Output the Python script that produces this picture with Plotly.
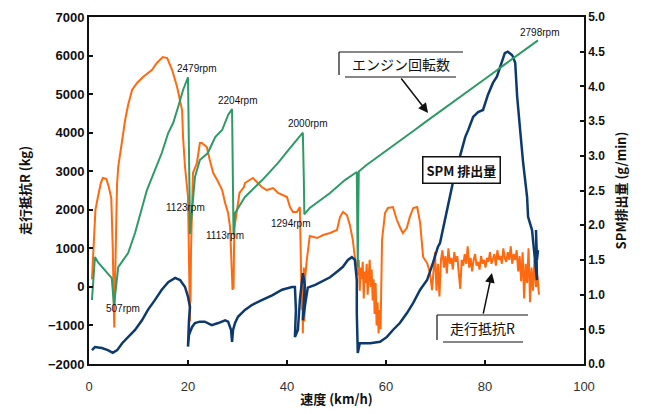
import plotly.graph_objects as go

# ---------------- data ----------------
# 走行抵抗R (kg) vs speed (km/h)
resist_speed = [0.6, 0.8, 1.0, 1.3, 1.8, 2.4, 2.8, 3.5, 4.0, 4.5, 4.8, 5.0, 5.1, 5.2, 5.4, 5.66, 5.9,
                6.7, 6.9, 7.3, 7.9, 8.7, 9.7, 10.9, 12.7, 13.7, 14.9, 15.8, 16.8, 17.8, 18.8, 19.0,
                19.4, 19.8, 20.0, 20.1, 20.2, 20.3, 20.4, 20.45, 20.5, 20.6, 20.8, 21.0, 21.8, 22.4,
                22.8, 23.8, 24.4, 25.1, 25.9, 26.9, 27.5, 28.1, 28.5, 28.8, 29.0, 29.1, 29.2, 29.3,
                29.4, 30.4, 31.3, 31.5, 32.5, 33.1, 33.9, 34.9, 35.9, 37.2, 38.2, 39.2, 40.0, 40.6,
                41.2, 42.0, 42.6, 42.8, 43.0, 43.1, 43.2, 43.3, 43.4, 43.5, 43.7, 44.0, 44.2, 44.6,
                46.1, 47.3, 48.7, 50.1, 50.7, 51.3, 52.1, 52.7, 53.3, 53.7, 54.1,
                54.3, 54.5, 54.7, 54.9, 55.1, 55.3, 55.5, 55.7, 55.9, 56.1, 56.3, 56.5, 56.7, 56.9,
                57.1, 57.3, 57.5, 57.7, 57.9, 58.1, 58.3, 58.5, 58.7, 58.9, 59.1, 59.2, 59.8, 60.4,
                61.4, 62.2, 62.8, 63.4, 64.2, 64.8, 65.5, 66.3, 66.9, 67.3, 67.5, 68.3, 68.9, 69.3,
                69.6, 69.9, 70.2, 70.5, 70.8, 71.1, 71.4, 71.7, 72.0, 72.3, 72.6, 72.9, 73.2, 73.5,
                73.8, 74.1, 74.4, 74.7, 75.0, 75.3, 75.6, 75.9, 76.2, 76.5, 76.8, 77.1, 77.4, 77.7,
                78.0, 78.3, 78.6, 78.9, 79.2, 79.5, 79.8, 80.1, 80.4, 80.7, 81.0, 81.3, 81.6, 81.9,
                82.2, 82.5, 82.8, 83.1, 83.4, 83.7, 84.0, 84.3, 84.6, 84.9, 85.2, 85.5, 85.8, 86.1,
                86.4, 86.7, 87.0, 87.3, 87.6, 87.9, 88.2, 88.5, 88.8, 89.1, 89.4, 89.7, 90.0, 90.3,
                90.6, 90.9]
resist_kg = [200, 700, 1300, 2000, 2331, 2700, 2824, 2800, 2590, 2300, 1000, -500, -1050, -300, 800,
             2642, 3109, 3887, 4069, 4328, 4717, 5106, 5288, 5444, 5625, 5807, 5962, 5936, 5625,
             5184, 4588, 3887, 3109, 2694, 2331, 1500, 200, -700, -900, 300, -400, 900, 2000, 2953,
             3213, 3731, 3731, 3628, 3291, 2953, 2772, 2512, 2175, 1916, 1553, 800, -80, 400, -50,
             1000, 1553, 2435, 2590, 2694, 2772, 2824, 2720, 2590, 2512, 2564, 2435, 2383, 2331,
             2071, 1942, 1942, 2071, 700, -600, 200, -1200, -300, 500, -900, 300, 700, 956, 1320,
             1267, 1345, 1397, 1475, 1812, 1942, 1864, 1604, 1215, 775, 515,
             300, 700, -100, 500, 200, 650, -300, 400, 100, 600, -200, 300, 700, 0, 450, -350,
             200, -700, 100, -1000, -400, -1200, -600, -1100, 300, 1216, 1916, 2046, 2071, 1734,
             1553, 1397, 1527, 1812, 2046, 2071, 1656, 956, 775, 618, 359, -82,
             400, 900, -100, 600, -250, 700, 950, 500, 800, 350, 1000, 600, 750, 450, 900, 650,
             800, 300, -50, 700, 550, 850, 600, 1050, 500, 750, 400, 700, 850, 550, 650, 450,
             800, 600, 700, 500, 750, 650, 900, 600, 700, 850, 550, 950, 700, 800, 600, 1000,
             750, 650, 900, 700, 1050, 600, 850, 700, 950, 400, 800, 150, 900, -300, 600, 100,
             1000, -400, 500, -100, 700, 0, 300, -200]

# エンジン回転数 (rpm) vs speed
rpm_speed = [0.6, 1.2, 1.8, 3.2, 4.6, 5.05, 5.9, 7.9, 9.3, 11.7, 12.7, 14.7, 16.0, 17.0, 18.0, 19.0,
             20.0, 20.2, 20.3, 20.4, 20.6, 21.0, 21.4, 22.4, 24.0, 25.5, 26.9, 28.1, 28.9, 29.1,
             29.2, 29.5, 31.5, 35.0, 38.2, 40.6, 43.2, 43.4, 43.5, 44.6, 48.7, 51.7, 54.1, 54.2,
             54.3, 54.4, 54.5, 56, 58, 60, 62, 64, 66, 68, 70, 72, 74, 76, 78, 80, 82, 84, 86,
             88, 90, 90.7]
rpm_value = [553, 925, 881, 812, 743, 507, 838, 959, 1132, 1504, 1616, 1824, 1997, 2083, 2222, 2369,
             2479, 2000, 1500, 1123, 1250, 1418, 1616, 1763, 1824, 1962, 2023, 2153, 2204, 1700,
             1113, 1305, 1444, 1590, 1738, 1867, 2000, 1600, 1294, 1349, 1478, 1590, 1660, 1200,
             840, 1300, 1665, 1718, 1782, 1843, 1905, 1967, 2030, 2093, 2154, 2216, 2280, 2340,
             2403, 2465, 2527, 2590, 2652, 2712, 2775, 2798]

# SPM排出量 (g/min) vs speed
spm_speed = [0.6, 1.2, 2.6, 3.8, 4.8, 5.7, 6.7, 7.9, 9.3, 10.7, 11.9, 13.3, 14.7, 16.0, 17.4, 18.4,
             19.4, 20.0, 20.4, 20.2, 20.0, 20.0, 20.2, 20.8, 21.4, 22.4, 23.4, 24.8, 26.1, 27.5,
             28.1, 28.7, 28.9, 29.1, 29.5, 30.1, 31.5, 32.9, 34.9, 37.0, 39.0, 41.0, 41.6, 41.8,
             41.6, 42.2, 42.6, 43.2, 43.6, 43.2, 43.8, 44.2, 45.7, 46.7, 48.7, 50.1, 51.3, 52.3,
             53.1, 53.7, 54.1, 54.1, 54.3, 54.7, 56.8, 58.8, 60.2, 61.4, 62.8, 64.2, 65.5, 66.9,
             68.3, 69.5, 70.5, 70.9, 72.3, 73.5, 74.9, 76.0, 76.6, 77.6, 78.6, 79.6, 80.6, 81.6,
             82.4, 83.4, 84.0, 84.6, 85.5, 86.1, 86.5, 87.1, 87.7, 88.5, 88.7, 89.5, 90.1, 90.5,
             90.3, 90.5, 90.7]
spm_value = [0.20, 0.245, 0.23, 0.20, 0.16, 0.20, 0.30, 0.39, 0.49, 0.63, 0.78, 0.92, 1.07, 1.18,
             1.24, 1.21, 1.11, 0.97, 0.82, 0.63, 0.39, 0.25, 0.42, 0.53, 0.59, 0.61, 0.61, 0.56,
             0.59, 0.63, 0.61, 0.49, 0.32, 0.49, 0.59, 0.68, 0.78, 0.85, 0.92, 0.99, 1.07, 1.11,
             1.11, 0.78, 0.39, 0.49, 0.92, 1.31, 1.14, 0.63, 0.92, 1.10, 1.14, 1.18, 1.25, 1.33,
             1.40, 1.50, 1.54, 1.50, 1.21, 0.73, 0.16, 0.30, 0.30, 0.32, 0.39, 0.49, 0.59, 0.73,
             0.88, 1.07, 1.21, 1.46, 1.69, 1.74, 2.22, 2.61, 2.98, 3.27, 3.37, 3.56, 3.63, 3.66,
             3.88, 4.05, 4.14, 4.34, 4.48, 4.50, 4.45, 4.34, 3.85, 3.37, 2.90, 2.41, 2.12, 1.93,
             1.54, 1.21, 1.93, 1.50, 1.64]

rpm_labels = ["2479rpm", "2204rpm", "2000rpm", "2798rpm", "1123rpm", "1113rpm", "1294rpm", "507rpm"]
label_x = [21.8, 29.9, 44.2, 91.1, 19.4, 27.5, 40.8, 6.9]
label_y = [5677, 4847, 4250, 6611, 2071, 1345, 1656, -549]

x_ticks = [0, 20, 40, 60, 80, 100]
left_ticks = [-2000, -1000, 0, 1000, 2000, 3000, 4000, 5000, 6000, 7000]
right_ticks = [0.0, 0.5, 1.0, 1.5, 2.0, 2.5, 3.0, 3.5, 4.0, 4.5, 5.0]

# ---------------- figure ----------------
ORANGE = "#ff6a10"
GREEN = "#2e9a66"
BLUE = "#0d3a6e"
FONT = "Liberation Sans, Arial, Noto Sans CJK JP"
CJK = "Noto Sans CJK JP, Liberation Sans"

# page body adds an 8px offset; figure is sized to fill the rest of the window
OFF = 8
W, H = 651 - OFF, 414 - OFF
PL, PR, PT, PB = 89, 584, 17, 364          # plot area in window pixels

fig = go.Figure()
fig.add_trace(go.Scatter(x=resist_speed, y=resist_kg, mode="lines", yaxis="y",
                         line=dict(color=ORANGE, width=2), name="走行抵抗R"))
fig.add_trace(go.Scatter(x=spm_speed, y=spm_value, mode="lines", yaxis="y2",
                         line=dict(color=BLUE, width=2.5), name="SPM排出量"))
fig.add_trace(go.Scatter(x=rpm_speed, y=rpm_value, mode="lines", yaxis="y3",
                         line=dict(color=GREEN, width=2), name="エンジン回転数"))


def px(x):
    return (x - PL) / (PR - PL)


def py(y):
    return (PB - y) / (PB - PT)


annotations = []
for t, lx, ly in zip(rpm_labels, label_x, label_y):
    annotations.append(dict(x=lx, y=ly, xref="x", yref="y", text=t, showarrow=False,
                            xanchor="center", yanchor="middle",
                            font=dict(family=FONT, size=10, color="#111")))

# callout boxes
annotations.append(dict(x=px(401), y=py(64), xref="paper", yref="paper",
                        text="エンジン回転数", showarrow=False, xanchor="center", yanchor="middle",
                        font=dict(family=CJK, size=14, color="#111")))
annotations.append(dict(x=px(461), y=py(170), xref="paper", yref="paper",
                        text="<b>SPM 排出量</b>", showarrow=False, bgcolor="white",
                        xanchor="center", yanchor="middle",
                        bordercolor="#111", borderwidth=1.5, borderpad=3,
                        font=dict(family=CJK, size=13, color="#111")))
annotations.append(dict(x=px(482), y=py(328), xref="paper", yref="paper",
                        text="走行抵抗R", showarrow=False, xanchor="center", yanchor="middle",
                        font=dict(family=CJK, size=14, color="#111")))
# arrows
annotations.append(dict(x=68.5, y=4510, xref="x", yref="y", text="", showarrow=True,
                        ax=-28, ay=-36, arrowhead=2, arrowsize=1.3, arrowwidth=1.5,
                        arrowcolor="#111"))
annotations.append(dict(x=81.4, y=359, xref="x", yref="y", text="", showarrow=True,
                        ax=-9, ay=42, arrowhead=2, arrowsize=1.3, arrowwidth=1.5,
                        arrowcolor="#111"))

shapes = []
line_style = dict(color="#111", width=1.2)
# エンジン回転数 callout frame
shapes.append(dict(type="line", xref="paper", yref="paper", x0=px(339), x1=px(463), y0=py(52), y1=py(52), line=line_style))
shapes.append(dict(type="line", xref="paper", yref="paper", x0=px(339), x1=px(339), y0=py(52), y1=py(75), line=line_style))
shapes.append(dict(type="line", xref="paper", yref="paper", x0=px(345), x1=px(456), y0=py(77), y1=py(77), line=line_style))
# 走行抵抗R callout frame
shapes.append(dict(type="line", xref="paper", yref="paper", x0=px(437), x1=px(528), y0=py(315), y1=py(315), line=line_style))
shapes.append(dict(type="line", xref="paper", yref="paper", x0=px(437), x1=px(437), y0=py(315), y1=py(340), line=line_style))
shapes.append(dict(type="line", xref="paper", yref="paper", x0=px(443), x1=px(523), y0=py(342), y1=py(342), line=line_style))

fig.update_layout(
    width=W, height=H,
    margin=dict(l=PL - OFF, r=651 - PR, t=PT - OFF, b=414 - PB, autoexpand=False),
    paper_bgcolor="white", plot_bgcolor="white",
    showlegend=False,
    font=dict(family=FONT, color="#111"),
    annotations=annotations,
    shapes=shapes,
    xaxis=dict(range=[0, 100], tickvals=x_ticks, ticks="inside", ticklen=4, tickwidth=1.5,
               tickcolor="#111", showline=True, linecolor="#111", linewidth=2, mirror=True,
               showgrid=False, zeroline=False, automargin=False, ticklabelstandoff=9,
               tickfont=dict(family=FONT, size=13, color="#333"),
               title=dict(text="<b>速度 (km/h)</b>", standoff=2,
                          font=dict(family=CJK, size=13, color="#111"))),
    yaxis=dict(range=[-2000, 7000], tickvals=left_ticks, ticks="inside", ticklen=4, tickwidth=1.5,
               tickcolor="#111", showline=True, linecolor="#111", linewidth=2,
               showgrid=False, zeroline=False, automargin=False,
               tickfont=dict(family=FONT, size=13, color="#111", weight="bold"),
               title=dict(text="<b>走行抵抗R (kg)</b>", standoff=14,
                          font=dict(family=CJK, size=13, color="#111"))),
    yaxis2=dict(range=[0, 5], tickvals=right_ticks, tickformat=".1f", side="right",
                overlaying="y", anchor="x", ticks="inside", ticklen=4, tickwidth=1.5,
                tickcolor="#111", showline=True, linecolor="#111", linewidth=1.5,
                showgrid=False, zeroline=False, automargin=False,
                tickfont=dict(family=FONT, size=12, color="#111", weight="bold"),
                title=dict(text="<b>SPM排出量 (g/min)</b>", standoff=13,
                           font=dict(family=CJK, size=13, color="#111"))),
    yaxis3=dict(range=[0, 3000], overlaying="y", visible=False),
)

fig.write_html("out.html")
